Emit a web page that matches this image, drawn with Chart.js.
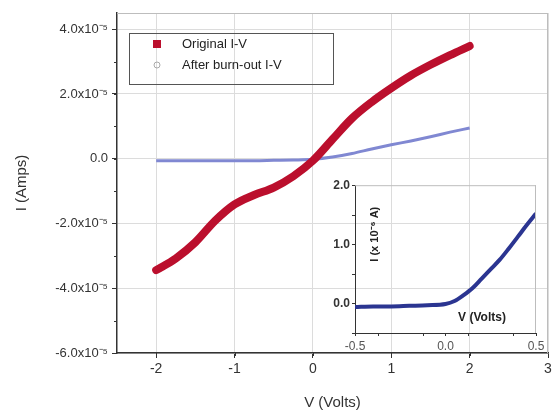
<!DOCTYPE html>
<html>
<head>
<meta charset="utf-8">
<script src="https://cdn.jsdelivr.net/npm/chart.js@4.4.1/dist/chart.umd.min.js"></script>
<style>
  body { margin: 0; background: #fff; }
  #wrap { position: relative; width: 558px; height: 415px; }
  #main { position: absolute; left: 0; top: 0; }
  #inset { position: absolute; left: 318px; top: 176px; }
</style>
</head>
<body>
<div id="wrap">
  <canvas id="main" width="558" height="415"></canvas>
  <canvas id="inset" width="230" height="180"></canvas>
</div>
<script>
// I-V sweep, main plot (amps)
var volts = [-2, -1.75, -1.5, -1.25, -1, -0.75, -0.5, -0.25, 0, 0.25, 0.5, 0.75, 1, 1.25, 1.5, 1.75, 2];
var originalIV = [-3.44e-5, -3.08e-5, -2.58e-5, -1.92e-5, -1.41e-5, -1.12e-5, -0.89e-5, -0.54e-5, -0.06e-5,
  0.60e-5, 1.25e-5, 1.75e-5, 2.18e-5, 2.57e-5, 2.90e-5, 3.20e-5, 3.48e-5];
var burnoutIV = [-0.06e-5, -0.06e-5, -0.06e-5, -0.06e-5, -0.06e-5, -0.06e-5, -0.05e-5, -0.04e-5, -0.02e-5,
  0.05e-5, 0.16e-5, 0.30e-5, 0.43e-5, 0.55e-5, 0.68e-5, 0.82e-5, 0.95e-5];
var xTicks = [-2, -1, 0, 1, 2, 3];
var yTicks = [-6e-5, -4e-5, -2e-5, 0, 2e-5, 4e-5];
var yTickLabels = ['-6.0x10\u207B\u2075', '-4.0x10\u207B\u2075', '-2.0x10\u207B\u2075', '0.0', '2.0x10\u207B\u2075', '4.0x10\u207B\u2075'];

// low-bias zoom of the burnt-out device (x 10^-6 A)
var insetVolts = [-0.5, -0.4, -0.3, -0.2, -0.1, 0, 0.05, 0.1, 0.15, 0.2, 0.25, 0.3, 0.35, 0.4, 0.45, 0.5];
var insetCurrent = [-0.06, -0.05, -0.05, -0.04, -0.03, -0.01, 0.04, 0.14, 0.26, 0.42, 0.58, 0.74, 0.93, 1.13, 1.33, 1.52];
var insetXTicks = [-0.5, 0, 0.5];
var insetYTicks = [0, 1, 2];

function pairs(xs, ys) {
  return xs.map(function (x, i) { return { x: x, y: ys[i] }; });
}

// grey top/right frame plus short minor ticks on the outside of the axes
function frameAndMinor(xStep, yStep) {
  return {
    id: 'frameAndMinor',
    afterDraw: function (chart) {
      var ctx = chart.ctx, a = chart.chartArea;
      var xs = chart.scales.x, ys = chart.scales.y;
      ctx.save();
      ctx.strokeStyle = '#bdbdbd';
      ctx.lineWidth = 1;
      ctx.beginPath();
      ctx.moveTo(a.left, a.top + 0.5); ctx.lineTo(a.right, a.top + 0.5);
      ctx.moveTo(a.right - 0.5, a.top); ctx.lineTo(a.right - 0.5, a.bottom);
      ctx.stroke();
      ctx.strokeStyle = '#333';
      ctx.beginPath();
      var v;
      for (v = xs.min + xStep / 2; v < xs.max; v += xStep) {
        var px = Math.round(xs.getPixelForValue(v)) + 0.5;
        ctx.moveTo(px, a.bottom); ctx.lineTo(px, a.bottom + 3);
      }
      for (v = Math.ceil(ys.min / yStep) * yStep; v <= ys.max; v += yStep) {
        var py = Math.round(ys.getPixelForValue(v)) + 0.5;
        ctx.moveTo(a.left - 3, py); ctx.lineTo(a.left, py);
      }
      ctx.stroke();
      ctx.restore();
    }
  };
}

var legendBox = {
  id: 'legendBox',
  afterDraw: function (chart) {
    var ctx = chart.ctx;
    ctx.save();
    ctx.strokeStyle = '#555';
    ctx.lineWidth = 1;
    ctx.strokeRect(129.5, 33.5, 204, 51);
    ctx.font = '13px "Liberation Sans", Arial, sans-serif';
    ctx.textBaseline = 'middle';
    var ds = chart.data.datasets;
    ctx.fillStyle = ds[0].borderColor;
    ctx.fillRect(153, 40, 8, 8);
    ctx.beginPath();
    ctx.arc(157, 65, 3, 0, Math.PI * 2);
    ctx.strokeStyle = '#aaa';
    ctx.stroke();
    ctx.fillStyle = '#222';
    ctx.fillText(ds[0].label, 182, 44);
    ctx.fillText(ds[1].label, 182, 65);
    ctx.restore();
  }
};

new Chart(document.getElementById('main'), {
  type: 'line',
  data: {
    datasets: [
      {
        label: 'Original I-V',
        data: pairs(volts, originalIV),
        borderColor: '#bb0f2d',
        borderWidth: 8,
        borderCapStyle: 'round',
        pointRadius: 0,
        cubicInterpolationMode: 'monotone'
      },
      {
        label: 'After burn-out I-V',
        data: pairs(volts, burnoutIV),
        borderColor: '#8088d2',
        borderWidth: 3,
        pointRadius: 0,
        cubicInterpolationMode: 'monotone'
      }
    ]
  },
  options: {
    responsive: false,
    animation: false,
    layout: { padding: { top: 13, right: 10, left: 0, bottom: 0 } },
    plugins: { legend: { display: false }, tooltip: { enabled: false } },
    scales: {
      x: {
        type: 'linear',
        min: -2.5,
        max: 3,
        afterBuildTicks: function (s) { s.ticks = xTicks.map(function (v) { return { value: v }; }); },
        afterFit: function (s) { s.height = 62; },
        grid: { color: '#dcdcdc', tickColor: '#333', tickLength: 5 },
        border: { color: '#333', width: 1.5 },
        ticks: { color: '#333', padding: 3, font: { family: '"Liberation Sans", Arial', size: 14 } },
        title: {
          display: true, text: 'V (Volts)', color: '#333',
          font: { family: '"Liberation Sans", Arial', size: 15 },
          padding: { top: 0, bottom: 3 }
        }
      },
      y: {
        min: -6e-5,
        max: 4.5e-5,
        afterBuildTicks: function (s) { s.ticks = yTicks.map(function (v) { return { value: v }; }); },
        afterFit: function (s) { s.width = 117; },
        grid: { color: '#dcdcdc', tickColor: '#333', tickLength: 5 },
        border: { color: '#333', width: 1.5 },
        ticks: {
          color: '#333', padding: 4, font: { family: '"Liberation Sans", Arial', size: 13 },
          callback: function (v) { return yTickLabels[yTicks.indexOf(v)]; }
        },
        title: {
          display: true, text: 'I (Amps)', color: '#333',
          font: { family: '"Liberation Sans", Arial', size: 15 },
          padding: { top: 13, bottom: 0 }
        }
      }
    }
  },
  plugins: [frameAndMinor(1, 1e-5), legendBox]
});

// axis captions written inside the inset's plot area
var insetCaptions = {
  id: 'insetCaptions',
  afterDraw: function (chart) {
    var ctx = chart.ctx, a = chart.chartArea;
    ctx.save();
    ctx.fillStyle = '#222';
    ctx.font = 'bold 12px "Liberation Sans", Arial, sans-serif';
    ctx.textAlign = 'center';
    ctx.textBaseline = 'middle';
    ctx.fillText('V (Volts)', a.right - 54, a.bottom - 15);
    ctx.translate(a.left + 20, a.top + 49);
    ctx.rotate(-Math.PI / 2);
    ctx.font = 'bold 11px "Liberation Sans", Arial, sans-serif';
    ctx.fillText('I (x 10\u207B\u2076 A)', 0, 0);
    ctx.restore();
  }
};

new Chart(document.getElementById('inset'), {
  type: 'line',
  data: {
    datasets: [{
      label: 'After burn-out I-V',
      data: pairs(insetVolts, insetCurrent),
      borderColor: '#2b3591',
      borderWidth: 4,
      pointRadius: 0,
      cubicInterpolationMode: 'monotone'
    }]
  },
  options: {
    responsive: false,
    animation: false,
    layout: { padding: { top: 8, right: 12, left: 0, bottom: 0 } },
    plugins: { legend: { display: false }, tooltip: { enabled: false } },
    scales: {
      x: {
        type: 'linear',
        min: -0.5,
        max: 0.5,
        afterBuildTicks: function (s) { s.ticks = insetXTicks.map(function (v) { return { value: v }; }); },
        afterFit: function (s) { s.height = 23; },
        grid: { drawOnChartArea: false, tickColor: '#333', tickLength: 3 },
        border: { color: '#333', width: 1 },
        ticks: {
          color: '#555', padding: 3, font: { family: '"Liberation Sans", Arial', size: 12 },
          callback: function (v) { return v.toFixed(1); }
        }
      },
      y: {
        min: -0.5,
        max: 2,
        afterBuildTicks: function (s) { s.ticks = insetYTicks.map(function (v) { return { value: v }; }); },
        afterFit: function (s) { s.width = 37; },
        grid: { drawOnChartArea: false, tickColor: '#333', tickLength: 3 },
        border: { color: '#333', width: 1 },
        ticks: {
          color: '#333', padding: 2, font: { family: '"Liberation Sans", Arial', size: 12, weight: 'bold' },
          callback: function (v) { return v.toFixed(1); }
        }
      }
    }
  },
  plugins: [frameAndMinor(0.25, 0.5), insetCaptions]
});
</script>
</body>
</html>
